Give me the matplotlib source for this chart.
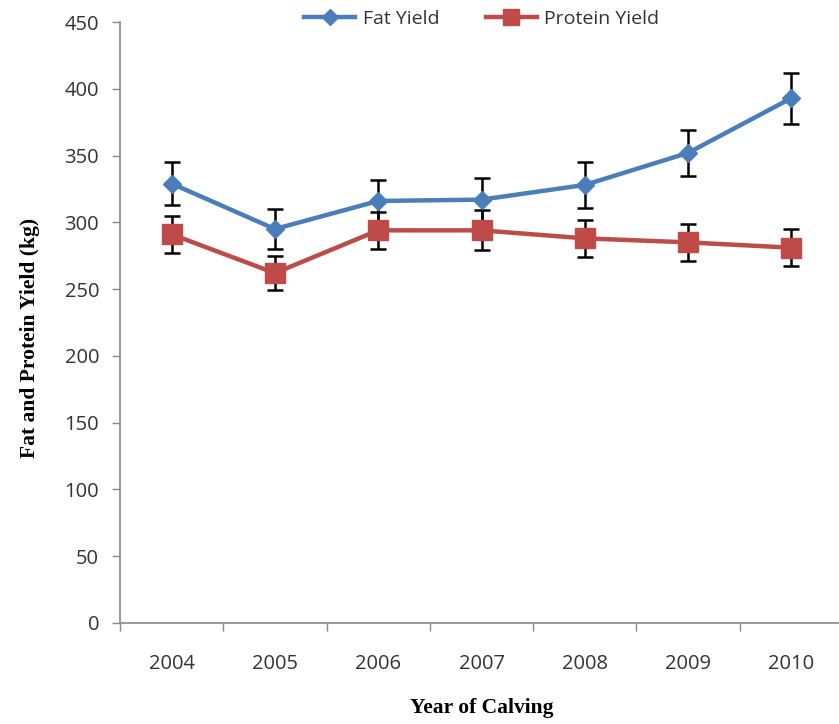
import matplotlib
matplotlib.use("Agg")
import matplotlib.pyplot as plt
import numpy as np

# yields by year of calving, with standard errors
years = ["2004", "2005", "2006", "2007", "2008", "2009", "2010"]
fat_yield = [329, 295, 316, 317, 328, 352, 393]
fat_err = [16, 15, 16, 16, 17, 17, 19]
protein_yield = [291, 262, 294, 294, 288, 285, 281]
protein_err = [14, 13, 14, 15, 14, 14, 14]

blue = "#4A7EBB"
red = "#BE4B48"
tick_font = "Open Sans"
label_font = "Liberation Serif"

fig = plt.figure(figsize=(8.39, 7.24), dpi=100)
ax = fig.add_axes([120 / 839, 101 / 724, 723 / 839, 601 / 724])

x = np.arange(len(years))

# error bars first, then the lines and markers on top
ax.errorbar(x, fat_yield, yerr=fat_err, fmt="none", ecolor="black",
            elinewidth=1.8, capsize=6, capthick=1.8, zorder=2)
ax.errorbar(x, protein_yield, yerr=protein_err, fmt="none", ecolor="black",
            elinewidth=1.8, capsize=6, capthick=1.8, zorder=2)
ax.plot(x, fat_yield, color=blue, linewidth=3.2, marker="D", markersize=9,
        markerfacecolor=blue, markeredgecolor=blue, label="Fat Yield", zorder=3)
ax.plot(x, protein_yield, color=red, linewidth=3.2, marker="s", markersize=14,
        markerfacecolor=red, markeredgecolor=red, label="Protein Yield", zorder=3)

ax.set_ylim(0, 450)
ax.set_yticks(range(0, 451, 50))
ax.set_xlim(-0.5, len(years) - 0.5)

# category boundaries get the tick marks, centres get the labels
ax.set_xticks(np.arange(-0.5, len(years), 1.0))
ax.set_xticklabels([])
ax.set_xticks(x, minor=True)
ax.set_xticklabels(years, minor=True)
ax.tick_params(axis="x", which="major", direction="out", length=6,
               color="#888888", width=1)
ax.tick_params(axis="x", which="minor", length=0, pad=22,
               labelsize=14.5, labelcolor="#333333")
ax.tick_params(axis="y", direction="out", length=6, color="#888888",
               width=1, pad=9, labelsize=14.5, labelcolor="#333333")
for lab in ax.get_xticklabels(minor=True) + ax.get_yticklabels():
    lab.set_fontfamily(tick_font)

for side in ["top", "right"]:
    ax.spines[side].set_visible(False)
for side in ["left", "bottom"]:
    ax.spines[side].set_color("#888888")
    ax.spines[side].set_linewidth(1.2)

fig.text(482 / 839, 1 - 708 / 724, "Year of Calving", family=label_font,
         fontweight="bold", fontsize=15.5, ha="center", va="center")
fig.text(30 / 839, 1 - 338 / 724, "Fat and Protein Yield (kg)", family=label_font,
         fontweight="bold", fontsize=15.5, ha="center", va="center", rotation=90)

leg = ax.legend(loc="center", bbox_to_anchor=(482 / 839, 1 - 19 / 724),
                bbox_transform=fig.transFigure, ncol=2, frameon=False,
                handlelength=2.6, columnspacing=2.4, handletextpad=0.4,
                prop={"family": tick_font, "size": 14})
for t in leg.get_texts():
    t.set_color("#333333")
for h in leg.legend_handles:
    h.set_markersize(8 if h.get_marker() == "D" else 11)

fig.savefig("out.png", dpi=100)
